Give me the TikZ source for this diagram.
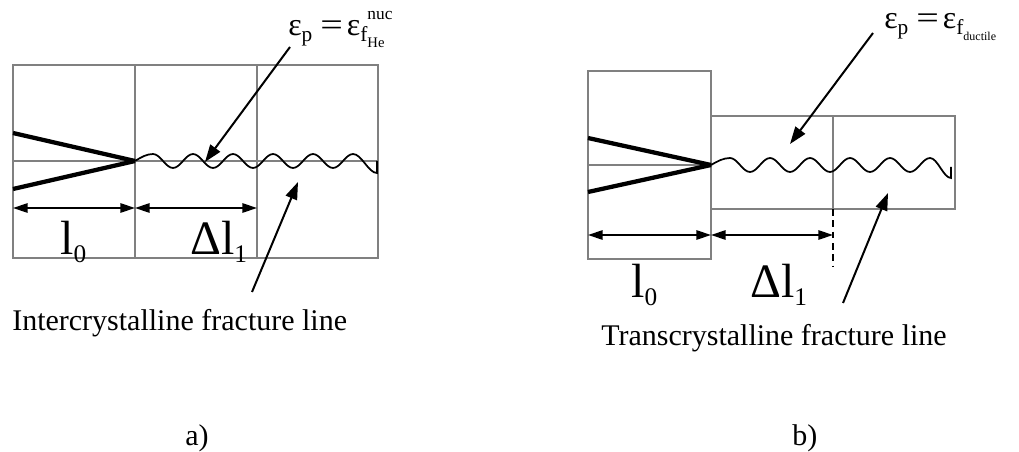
\documentclass[tikz,border=0pt]{standalone}
\usepackage{fontspec}
\setmainfont{Liberation Serif}
\usetikzlibrary{arrows.meta}
\newcommand{\fsz}[1]{\fontsize{#1}{#1}\selectfont}
\newcommand{\wideeq}{{\fsz{24}\scalebox{1.25}[1]{=}}}
\begin{document}
\begin{tikzpicture}[x=0.75pt,y=-0.75pt,
  grid/.style={draw={rgb,255:red,128;green,128;blue,128}, line width=1.6pt},
  crackline/.style={line width=3.2pt},
  wave/.style={line width=1.3pt},
  ptr/.style={line width=1.5pt, -{Triangle[length=13pt,width=9pt]}},
  dim/.style={line width=1.5pt, {Triangle[length=11pt,width=7pt]}-{Triangle[length=11pt,width=7pt]}},
  lbl/.style={inner sep=0pt, anchor=base west},
  txt/.style={inner sep=0pt, anchor=base west, font=\fsz{22.5}},
  dashline/.style={line width=1.5pt, dash pattern=on 5pt off 3.5pt}
]
\useasboundingbox (0,0) rectangle (1019,452);

% ---------- panel a ----------
\draw[grid] (13,65) rectangle (378,258);
\draw[grid] (135,65) -- (135,258) (257,65) -- (257,258) (13,161) -- (378,161);
\coordinate (atip) at (135,161);
\coordinate (acu) at (13,133);
\coordinate (acl) at (13,189);
\draw[crackline] (acu) -- (atip);
\draw[crackline] (acl) -- (atip);
\draw[wave] (atip) sin (153,154)
  \foreach \i in {0,...,9}{ cos ++(10,{7*(1-2*mod(\i,2))}) sin ++(10,{7*(1-2*mod(\i,2))}) }
  cos ++(12,9.5) sin ++(12,9.5) -- ++(0,-12);

\coordinate (ad0) at (13,208);
\coordinate (ad1) at (135,208);
\coordinate (ad2) at (257,208);
\draw[dim] (ad0) -- (ad1);
\draw[dim] (ad1) -- (ad2);

\node[lbl] (al0) at (60,254) {{\fsz{36}l}\raisebox{-6pt}{\fsz{19}0}};
\node[lbl] (adl) at (190,254) {{\fsz{36}Δl}\raisebox{-6pt}{\fsz{19}1}};

\node[lbl] (fa) at (288,36) {{\fsz{24}ε}\raisebox{-4pt}{\fsz{16}p}\hspace{6pt}\wideeq\hspace{3pt}{\fsz{24}ε}\raisebox{-4pt}{\fsz{16}f}\rlap{\raisebox{-9pt}{\fsz{11}He}}\raisebox{12pt}{\fsz{13}nuc}};
\coordinate (a1s) at (290,47);
\coordinate (a1t) at (205,162);
\draw[ptr] (a1s) -- (a1t);
\coordinate (a2s) at (252,292);
\coordinate (a2t) at (298,182);
\draw[ptr] (a2s) -- (a2t);

\node[txt] (ta) at (12,330) {Intercrystalline fracture line};
\node[txt] (pa) at (185,445) {a)};

% ---------- panel b ----------
\draw[grid] (588,71) rectangle (711,259);
\draw[grid] (588,165) -- (711,165);
\draw[grid] (711,116) rectangle (955,209);
\draw[grid] (833,116) -- (833,209);
\coordinate (btip) at (711,165);
\coordinate (bcu) at (588,138);
\coordinate (bcl) at (588,192);
\draw[crackline] (bcu) -- (btip);
\draw[crackline] (bcl) -- (btip);
\draw[wave] (btip) sin (730,158)
  \foreach \i in {0,...,9}{ cos ++(10,{7*(1-2*mod(\i,2))}) sin ++(10,{7*(1-2*mod(\i,2))}) }
  cos ++(10.5,10) sin ++(10.5,10) -- ++(0,-11);

\coordinate (bds) at (833,209);
\coordinate (bde) at (833,266);
\draw[dashline] (bds) -- (bde);
\coordinate (bd0) at (588,235);
\coordinate (bd1) at (711,235);
\coordinate (bd2) at (833,235);
\draw[dim] (bd0) -- (bd1);
\draw[dim] (bd1) -- (bd2);

\node[lbl] (bl0) at (631,297) {{\fsz{36}l}\raisebox{-6pt}{\fsz{19}0}};
\node[lbl] (bdl) at (750,297) {{\fsz{36}Δl}\raisebox{-6pt}{\fsz{19}1}};

\node[lbl] (fb) at (884,29) {{\fsz{24}ε}\raisebox{-4pt}{\fsz{16}p}\hspace{6pt}\wideeq\hspace{3pt}{\fsz{24}ε}\raisebox{-4pt}{\fsz{16}f\raisebox{-5pt}{\fsz{9}ductile}}};
\coordinate (b1s) at (873,33);
\coordinate (b1t) at (790,144);
\draw[ptr] (b1s) -- (b1t);
\coordinate (b2s) at (843,303);
\coordinate (b2t) at (888,193);
\draw[ptr] (b2s) -- (b2t);

\node[txt] (tb) at (601,345) {Transcrystalline fracture line};
\node[txt] (pb) at (792,445) {b)};
\end{tikzpicture}
\end{document}
